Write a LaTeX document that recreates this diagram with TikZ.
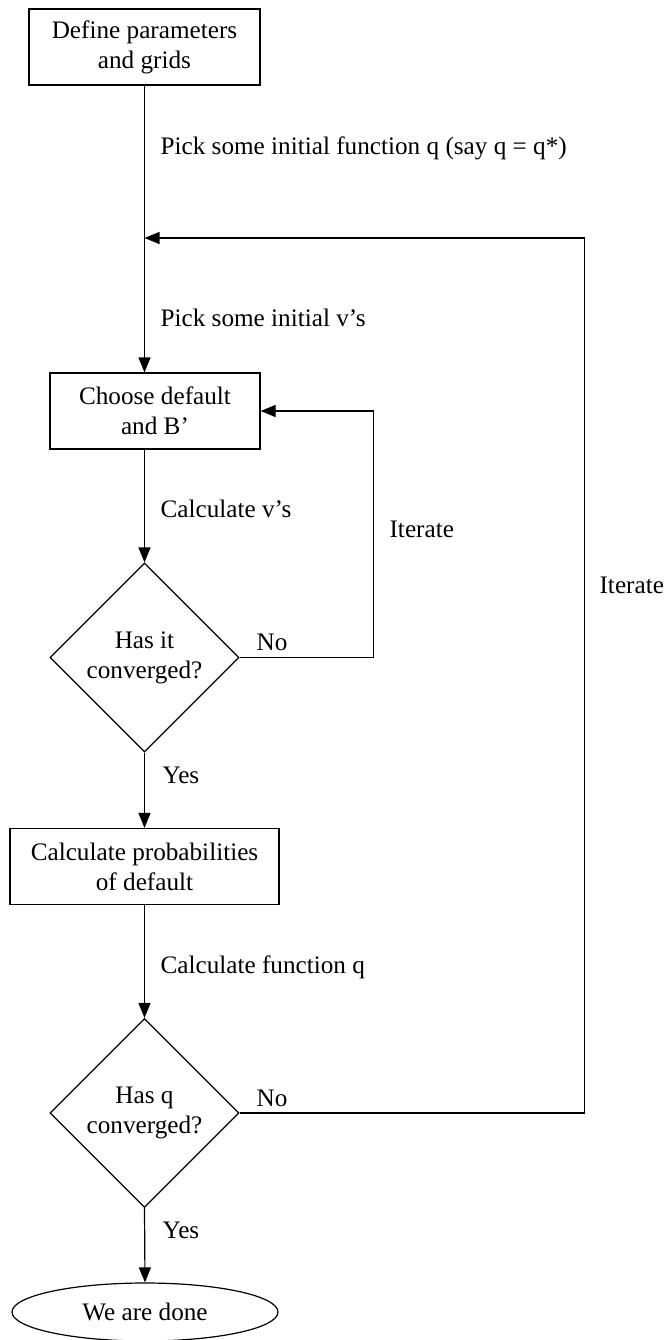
\documentclass[tikz,border=0pt]{standalone}
\usepackage{fontspec}
\setmainfont{Liberation Serif}
\usetikzlibrary{positioning,
                arrows.meta,                % arrow tips
                shapes.geometric}           % diamond and ellipse

\begin{document}
\begin{tikzpicture}[x=0.5pt, y=-0.5pt, line width=0.6pt,
        font=\fontsize{12.6}{15}\selectfont,
        box/.style={draw, rectangle, align=center, minimum height=38pt},
        decision/.style={draw, diamond, align=center, inner sep=0pt,
                         minimum width=94.5pt, minimum height=94.5pt},
        finish/.style={draw, ellipse, minimum width=133pt, minimum height=29pt},
        arr/.style={-{Triangle[length=7.5pt, width=6pt]}},
        note/.style={anchor=west, inner sep=0pt}]
        \useasboundingbox (0,0) rectangle (667,1340);

        \node[box, minimum width=115.5pt] (define) at (144.5,47) {Define parameters\\and grids};
        \node[box, minimum width=105pt] (choose) at (155,411) {Choose default\\and B'};
        \node[decision] (check1) at (144.5,657.5) {Has it\\converged?};
        \node[box, minimum width=134.5pt] (prob) at (144.5,866.5) {Calculate probabilities\\of default};
        \node[decision] (check2) at (144.5,1113) {Has q\\converged?};
        \node[finish] (done) at (145,1312) {We are done};
        \coordinate (join) at (144.5,238);

        \draw[arr] (define.south) -- (define.south |- choose.north);
        \draw[arr] (check1.north |- choose.south) -- (check1.north);
        \draw[arr] (check1.south) -- (prob.north);
        \draw[arr] (prob.south) -- (check2.north);
        \draw[arr] (check2.south) -- (done.north);
        \draw[arr] (check1.east) -- ++(134,0) |- (choose.east);
        \draw[arr] (check2.east) -- ++(345,0) |- (join);

        \node[note] (pickq) at (160,148) {Pick some initial function q (say q = q*)};
        \node[note] (pickv) at (160,318) {Pick some initial v's};
        \node[note] (calcv) at (160,509) {Calculate v's};
        \node[note] (yes1) at (162,775) {Yes};
        \node[note] (calcq) at (160,967) {Calculate function q};
        \node[note] (yes2) at (162,1230) {Yes};
        \node[note] (no1) at (256,642) {No};
        \node[note] (no2) at (256,1098) {No};
        \node[note] (iter1) at (389,529) {Iterate};
        \node[note] (iter2) at (599,585) {Iterate};
    \end{tikzpicture}
\end{document}
